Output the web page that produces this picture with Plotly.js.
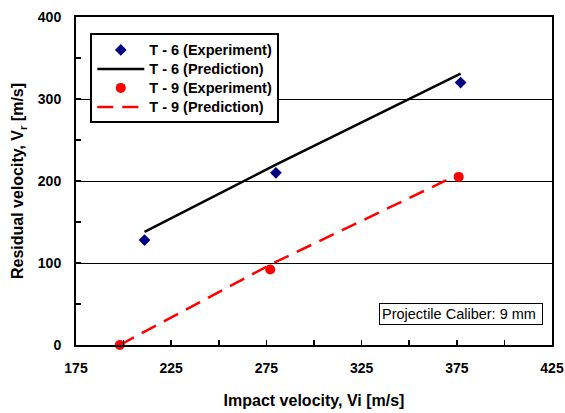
<!DOCTYPE html>
<html>
<head>
<meta charset="utf-8">
<script src="https://cdn.plot.ly/plotly-3.0.1.min.js"></script>
<style>
  html, body { margin: 0; padding: 0; background: #fff; }
  #chart { width: 565px; height: 413px; }
</style>
</head>
<body>
<div id="chart"></div>
<script>
// Impact velocity vs residual velocity, 9 mm projectile
const t6ExpVi = [211, 280, 377];
const t6ExpVr = [128, 210, 320];
const t6PredVi = [211, 280, 377];
const t6PredVr = [138, 220, 331];

const t9ExpVi = [198, 277, 376];
const t9ExpVr = [0, 92, 205];
const t9PredVi = [198, 277, 375];
const t9PredVr = [0, 98, 207];

const xTicks = [175, 225, 275, 325, 375, 425];
const yTicks = [0, 100, 200, 300, 400];

const seriesNames = ['T - 6 (Experiment)', 'T - 6 (Prediction)', 'T - 9 (Experiment)', 'T - 9 (Prediction)'];

const FONT = 'Arial, Liberation Sans, sans-serif';
// legend rows are spaced by the legend font size; the entry text itself is a bit larger
const legendLabel = s => '<span style="font-size:14.5px">' + s + '</span>';

const traces = [
  {
    x: t6ExpVi, y: t6ExpVr, mode: 'markers', type: 'scatter',
    name: legendLabel(seriesNames[0]),
    marker: { symbol: 'diamond', size: 9, color: '#000080' }
  },
  {
    x: t6PredVi, y: t6PredVr, mode: 'lines', type: 'scatter',
    name: legendLabel(seriesNames[1]),
    line: { color: '#000000', width: 2.5 }
  },
  {
    x: t9ExpVi, y: t9ExpVr, mode: 'markers', type: 'scatter',
    name: legendLabel(seriesNames[2]),
    marker: { symbol: 'circle', size: 10, color: '#ff0000' },
    cliponaxis: false
  },
  {
    x: t9PredVi, y: t9PredVr, mode: 'lines', type: 'scatter',
    name: legendLabel(seriesNames[3]),
    line: { color: '#ff0000', width: 2.5, dash: '16px,9px' }
  }
];

const layout = {
  width: 565, height: 413,
  margin: { l: 76, r: 13, t: 17, b: 68 },
  paper_bgcolor: '#fff', plot_bgcolor: '#fff',
  font: { family: FONT, size: 14, color: '#000' },
  showlegend: true,
  legend: {
    x: 0.03, y: 0.95, xanchor: 'left', yanchor: 'top',
    bgcolor: '#fff', bordercolor: '#000', borderwidth: 2,
    itemwidth: 47,
    font: { family: FONT, size: 12.3, color: '#000', weight: 'bold' },
    tracegroupgap: 0
  },
  xaxis: {
    range: [175, 425], tickvals: xTicks, ticktext: xTicks.map(String),
    ticks: 'inside', ticklen: 5, tickwidth: 1.5, tickcolor: '#000',
    ticklabelstandoff: 9,
    minor: { dtick: 25, tick0: 175, ticks: 'inside', ticklen: 5, tickwidth: 1.5, tickcolor: '#000', showgrid: false },
    showgrid: false, zeroline: false,
    showline: true, mirror: true, linecolor: '#000', linewidth: 2,
    tickfont: { family: FONT, size: 14, color: '#000', weight: 'bold' },
    title: { text: 'Impact velocity, Vi [m/s]', standoff: 20,
      font: { family: FONT, size: 16, color: '#000', weight: 'bold' } }
  },
  yaxis: {
    range: [0, 400], tickvals: yTicks, ticktext: yTicks.map(String),
    ticks: 'inside', ticklen: 5, tickwidth: 1.5, tickcolor: '#000',
    ticklabelstandoff: 10,
    minor: { dtick: 50, tick0: 0, ticks: 'inside', ticklen: 5, tickwidth: 1.5, tickcolor: '#000', showgrid: false },
    showgrid: true, gridcolor: '#000', gridwidth: 1, zeroline: false,
    showline: true, mirror: true, linecolor: '#000', linewidth: 2,
    tickfont: { family: FONT, size: 14, color: '#000', weight: 'bold' },
    title: { text: 'Residual velocity, V<sub>r</sub> [m/s]', standoff: 10,
      font: { family: FONT, size: 16, color: '#000', weight: 'bold' } }
  },
  annotations: [
    {
      text: 'Projectile Caliber: 9 mm', xref: 'paper', yref: 'paper',
      x: 0.981, y: 0.061, xanchor: 'right', yanchor: 'bottom', showarrow: false,
      width: 158, align: 'left',
      bordercolor: '#000', borderwidth: 1, borderpad: 2, bgcolor: '#fff',
      font: { family: FONT, size: 14.5, color: '#000' }
    }
  ]
};

Plotly.newPlot('chart', traces, layout, { displayModeBar: false, staticPlot: true });
</script>
</body>
</html>
